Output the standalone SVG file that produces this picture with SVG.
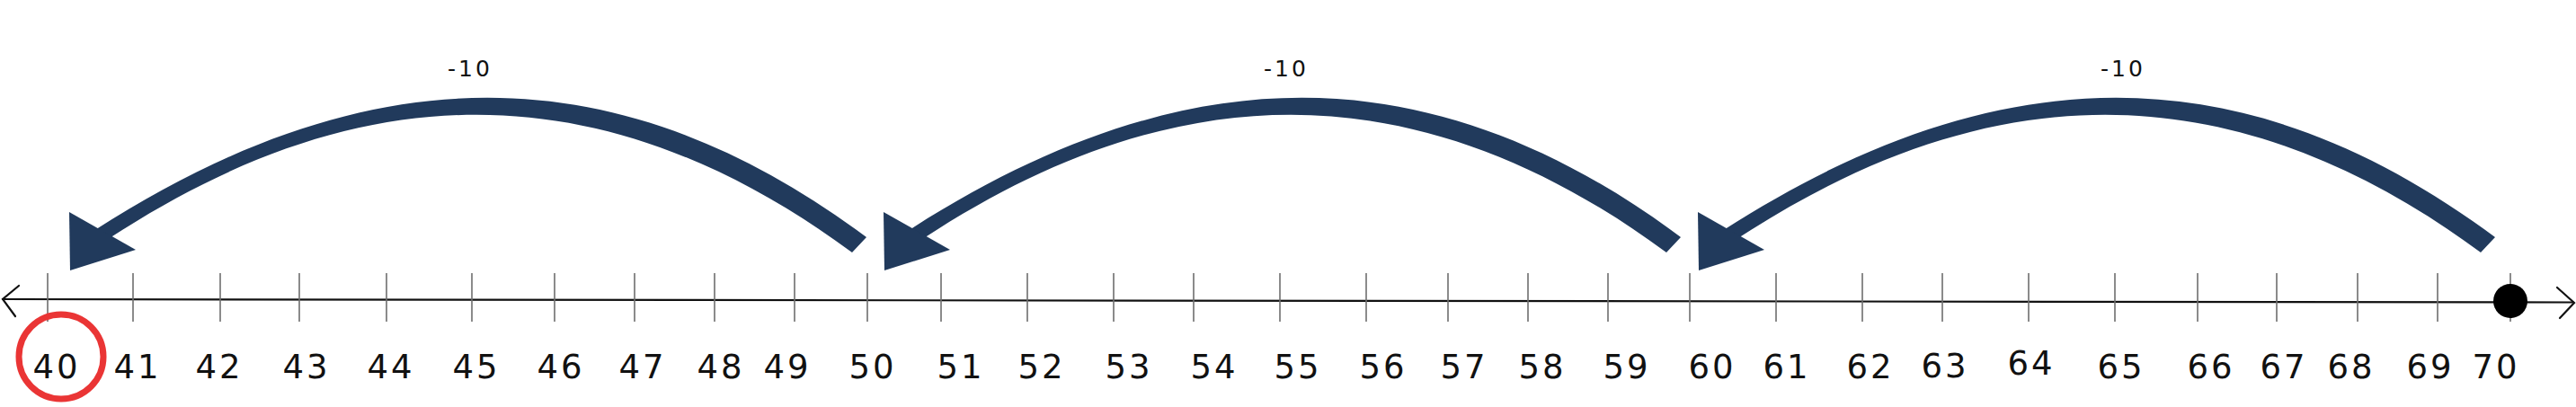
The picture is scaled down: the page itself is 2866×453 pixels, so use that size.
<svg xmlns="http://www.w3.org/2000/svg" width="2866" height="453" viewBox="0 0 2866 453">
<style>
.tick{stroke:#6e6e6e;stroke-width:1.6}
.axis{stroke:#111;stroke-width:2.2;fill:none;stroke-linecap:round}
.num{font-family:"DejaVu Sans","Liberation Sans",sans-serif;font-size:37px;fill:#111;text-anchor:middle;letter-spacing:3px}
.jl{font-family:"DejaVu Sans","Liberation Sans",sans-serif;font-size:25px;fill:#111;text-anchor:middle;letter-spacing:3px}
.shaft{fill:#213a5c}
.head{fill:#213a5c}
</style>
<rect width="2866" height="453" fill="#fff"/>
<g id="axis">
<line class="axis" x1="3" y1="333" x2="2863" y2="336.5"/>
<polyline class="axis" stroke-width="3" points="21,318 3,333 17,352"/>
<polyline class="axis" stroke-width="3" points="2845,320 2864,337 2848,354"/>
</g>
<g id="ticks">
<line class="tick" x1="53" y1="304" x2="53" y2="358"/>
<line class="tick" x1="148" y1="304" x2="148" y2="358"/>
<line class="tick" x1="245" y1="304" x2="245" y2="358"/>
<line class="tick" x1="333" y1="304" x2="333" y2="358"/>
<line class="tick" x1="430" y1="304" x2="430" y2="358"/>
<line class="tick" x1="525" y1="304" x2="525" y2="358"/>
<line class="tick" x1="617" y1="304" x2="617" y2="358"/>
<line class="tick" x1="706" y1="304" x2="706" y2="358"/>
<line class="tick" x1="795" y1="304" x2="795" y2="358"/>
<line class="tick" x1="884" y1="304" x2="884" y2="358"/>
<line class="tick" x1="965" y1="304" x2="965" y2="358"/>
<line class="tick" x1="1047" y1="304" x2="1047" y2="358"/>
<line class="tick" x1="1143" y1="304" x2="1143" y2="358"/>
<line class="tick" x1="1239" y1="304" x2="1239" y2="358"/>
<line class="tick" x1="1328" y1="304" x2="1328" y2="358"/>
<line class="tick" x1="1424" y1="304" x2="1424" y2="358"/>
<line class="tick" x1="1520" y1="304" x2="1520" y2="358"/>
<line class="tick" x1="1611" y1="304" x2="1611" y2="358"/>
<line class="tick" x1="1700" y1="304" x2="1700" y2="358"/>
<line class="tick" x1="1789" y1="304" x2="1789" y2="358"/>
<line class="tick" x1="1880" y1="304" x2="1880" y2="358"/>
<line class="tick" x1="1976" y1="304" x2="1976" y2="358"/>
<line class="tick" x1="2072" y1="304" x2="2072" y2="358"/>
<line class="tick" x1="2161" y1="304" x2="2161" y2="358"/>
<line class="tick" x1="2257" y1="304" x2="2257" y2="358"/>
<line class="tick" x1="2353" y1="304" x2="2353" y2="358"/>
<line class="tick" x1="2445" y1="304" x2="2445" y2="358"/>
<line class="tick" x1="2533" y1="304" x2="2533" y2="358"/>
<line class="tick" x1="2623" y1="304" x2="2623" y2="358"/>
<line class="tick" x1="2712" y1="304" x2="2712" y2="358"/>
<line class="tick" x1="2793" y1="304" x2="2793" y2="358"/>
</g>
<g id="n40"><text class="num" x="63" y="421">40</text></g>
<g id="n41"><text class="num" x="153" y="421">41</text></g>
<g id="n42"><text class="num" x="244" y="421">42</text></g>
<g id="n43"><text class="num" x="341" y="421">43</text></g>
<g id="n44"><text class="num" x="435" y="421">44</text></g>
<g id="n45"><text class="num" x="530" y="421">45</text></g>
<g id="n46"><text class="num" x="624" y="421">46</text></g>
<g id="n47"><text class="num" x="715" y="421">47</text></g>
<g id="n48"><text class="num" x="802" y="421">48</text></g>
<g id="n49"><text class="num" x="876" y="421">49</text></g>
<g id="n50"><text class="num" x="971" y="421">50</text></g>
<g id="n51"><text class="num" x="1069" y="421">51</text></g>
<g id="n52"><text class="num" x="1159" y="421">52</text></g>
<g id="n53"><text class="num" x="1256" y="421">53</text></g>
<g id="n54"><text class="num" x="1351" y="421">54</text></g>
<g id="n55"><text class="num" x="1444" y="421">55</text></g>
<g id="n56"><text class="num" x="1539" y="421">56</text></g>
<g id="n57"><text class="num" x="1629" y="421">57</text></g>
<g id="n58"><text class="num" x="1716" y="421">58</text></g>
<g id="n59"><text class="num" x="1810" y="421">59</text></g>
<g id="n60"><text class="num" x="1905" y="421">60</text></g>
<g id="n61"><text class="num" x="1988" y="421">61</text></g>
<g id="n62"><text class="num" x="2081" y="421">62</text></g>
<g id="n63"><text class="num" x="2164" y="420">63</text></g>
<g id="n64"><text class="num" x="2260" y="417">64</text></g>
<g id="n65"><text class="num" x="2360" y="421">65</text></g>
<g id="n66"><text class="num" x="2460" y="421">66</text></g>
<g id="n67"><text class="num" x="2541" y="421">67</text></g>
<g id="n68"><text class="num" x="2616" y="421">68</text></g>
<g id="n69"><text class="num" x="2704" y="421">69</text></g>
<g id="n70"><text class="num" x="2777" y="421">70</text></g>
<g id="start-dot"><circle cx="2793" cy="335" r="19" fill="#000"/></g>
<g id="answer-circle"><circle cx="68" cy="397" r="47" fill="none" stroke="#ea3535" stroke-width="7"/></g>
<g id="connectors">
<g id="jump1">
<path class="shaft" d="M 964 264 C 686 57, 409 59, 101 259 L 110 273 C 401 77, 674 79, 948 281 Z"/>
<polygon class="head" points="77,236 78,301 151,278"/>
<text class="jl" x="523" y="85">-10</text>
</g>
<g id="jump2">
<path class="shaft" d="M 1870 264 C 1592 57, 1315 59, 1007 259 L 1016 273 C 1307 77, 1580 79, 1854 281 Z"/>
<polygon class="head" points="983,236 984,301 1057,278"/>
<text class="jl" x="1431" y="85">-10</text>
</g>
<g id="jump3">
<path class="shaft" d="M 2776 264 C 2498 57, 2221 59, 1913 259 L 1922 273 C 2213 77, 2486 79, 2760 281 Z"/>
<polygon class="head" points="1889,236 1890,301 1963,278"/>
<text class="jl" x="2362" y="85">-10</text>
</g>
</g>
</svg>
